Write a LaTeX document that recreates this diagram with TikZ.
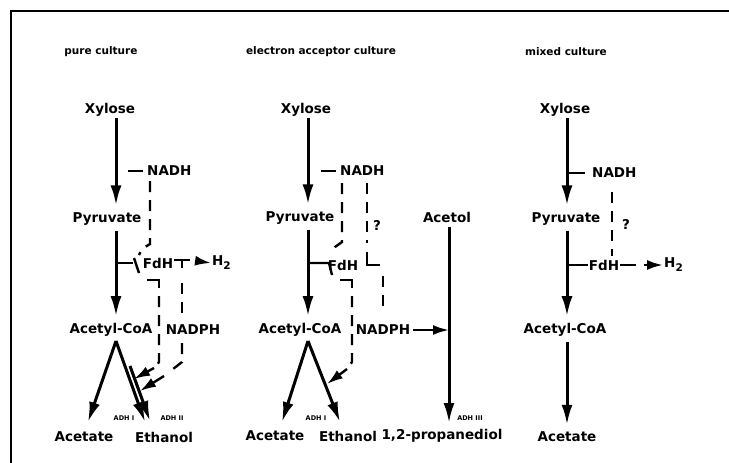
\documentclass[tikz,border=0pt]{standalone}
\usepackage{fontspec}
\setmainfont{DejaVu Sans}
\usetikzlibrary{arrows.meta,calc}
\tikzset{
  lab/.style={font=\fontsize{13.5}{13.5}\selectfont\bfseries, inner sep=1pt},
  ttl/.style={font=\fontsize{10.5}{10.5}\selectfont\bfseries, inner sep=0pt},
  adh/.style={font=\fontsize{6.5}{6.5}\selectfont\bfseries, inner sep=0pt},
  flow/.style={line width=3pt, -{Latex[length=20pt,width=11pt]}},
  sline/.style={line width=2.4pt},
  dline/.style={line width=2.4pt, dash pattern=on 11pt off 8pt},
  htip/.style={line width=2.4pt, -{Latex[length=16pt,width=10pt]}},
}
\newcommand{\Htwo}{H\raisebox{-4pt}{\fontsize{10.5}{10.5}\selectfont 2}}
\begin{document}
\begin{tikzpicture}[x=1pt,y=-1pt]
\useasboundingbox (0,0) rectangle (729,463);
\fill[white] (0,0) rectangle (729,463);
\coordinate (fa) at (729,11);
\coordinate (fb) at (11,11);
\coordinate (fc) at (11,463);
\draw[line width=2.4pt] (fa) -- (fb) -- (fc);

% ---------------- column 1: pure culture
\coordinate (c1) at (116,0);
\node[ttl] (t1) at (101,52) {pure culture};
\node[lab] (x1) at (110,110) {Xylose};
\node[lab] (p1) at (107,219) {Pyruvate};
\node[lab] (a1) at (111,330) {Acetyl-CoA};
\node[lab] (ac1) at (84,437) {Acetate};
\node[lab] (et1) at (164,437) {Ethanol};
\node[lab, anchor=west] (n1) at (146,171) {NADH};
\node[lab] (f1) at (158,263) {FdH};
\node[lab, anchor=west] (h1) at (211,263) {\Htwo};
\node[lab] (np1) at (193,330) {NADPH};
\node[adh] (ad11) at (124,418) {ADH I};
\node[adh] (ad12) at (172,418) {ADH II};

\draw[flow, shorten >=6pt] (c1 |- x1.south) -- (c1 |- p1.north);
\draw[flow, shorten <=4pt, shorten >=6pt] (c1 |- p1.south) -- (c1 |- a1.north);
\draw[sline] (n1.west) ++(-3,0) -- ++(-15,0);
\draw[dline] (150,181) -- (150,244) -- (142,249) -- (139,255);
\draw[sline] (c1 |- f1) -- ++(17,0);
\draw[sline] (134,258) -- (139,273);
\draw[sline] (174,260) -- (190,260);
\draw[sline] (182,260) -- (182,268);
\draw[dline] (182,283) -- (182,318);
\draw[dline] (182,343) -- (182,362) -- (168,373);
\draw[htip] (164,376) -- (140,391);
\draw[sline] (147,280) -- (159,280) -- (159,288);
\draw[dline] (159,296) -- (159,362) -- (156,366);
\draw[htip] (154,368) -- (134,379);
\draw[htip] (197,261) -- (h1.west);
\coordinate (s1) at (116,341);
\draw[flow] (s1) -- (88,422);
\draw[flow] (s1) -- (145,422);
\draw[flow] (130,366) -- (150,421);

% ---------------- column 2: electron acceptor culture
\coordinate (c2) at (308,0);
\node[ttl] (t2) at (321,52) {electron acceptor culture};
\node[lab] (x2) at (306,110) {Xylose};
\node[lab] (p2) at (300,218) {Pyruvate};
\node[lab] (a2) at (300,330) {Acetyl-CoA};
\node[lab] (ac2) at (275,436) {Acetate};
\node[lab] (et2) at (348,436) {Ethanol};
\node[lab] (pd2) at (442,436) {1,2-propanediol};
\node[lab, anchor=west] (n2) at (339,171) {NADH};
\node[lab] (f2) at (343,265) {FdH};
\node[lab] (np2) at (383,330) {NADPH};
\node[lab] (ao2) at (447,217) {Acetol};
\node[lab] (q2) at (377,225) {?};
\node[adh] (ad21) at (316,418) {ADH I};
\node[adh] (ad23) at (470,418) {ADH III};

\draw[flow, shorten >=6pt] (c2 |- x2.south) -- (c2 |- p2.north);
\draw[flow, shorten <=4pt, shorten >=6pt] (c2 |- p2.south) -- (c2 |- a2.north);
\draw[sline] (n2.west) ++(-3,0) -- ++(-15,0);
\draw[dline] (342,183) -- (342,242) -- (335,247) -- (331,253);
\draw[sline] (c2 |- f2) ++(0,-2) -- ++(21,0) -- ++(3,12);
\draw[dline] (367,183) -- (367,243);
\draw[sline] (367,252) -- (367,265) -- (380,265);
\draw[dline] (383,276) -- (383,314);
\draw[sline] (340,280) -- (352,280) -- (352,288);
\draw[dline] (352,296) -- (352,362) -- (349,366);
\draw[htip] (347,369) -- (327,384);
\coordinate (s2) at (308,341);
\draw[flow] (s2) -- (282,422);
\draw[flow] (s2) -- (340,422);
\coordinate (c3a) at (449,0);
\draw[flow, shorten <=4pt] (c3a |- ao2.south) -- (449,423);
\draw[sline] (np2.east) ++(2,0) -- ++(14,0);
\draw[htip] (427,330) -- (449,330);

% ---------------- column 3: mixed culture
\coordinate (c3) at (567,0);
\node[ttl] (t3) at (566,52) {mixed culture};
\node[lab] (x3) at (565,110) {Xylose};
\node[lab] (p3) at (566,219) {Pyruvate};
\node[lab] (a3) at (565,330) {Acetyl-CoA};
\node[lab] (ac3) at (567,437) {Acetate};
\node[lab, anchor=west] (n3) at (591,173) {NADH};
\node[lab] (f3) at (604,265) {FdH};
\node[lab] (q3) at (626,224) {?};
\node[lab, anchor=west] (h3) at (663,265) {\Htwo};

\draw[flow, shorten >=6pt] (c3 |- x3.south) -- (c3 |- p3.north);
\draw[flow, shorten <=4pt, shorten >=6pt] (c3 |- p3.south) -- (c3 |- a3.north);
\draw[flow, shorten <=4pt, shorten >=6pt] (c3 |- a3.south) -- (c3 |- ac3.north);
\draw[sline] (c3 |- n3) -- ++(18,0);
\draw[dline] (612,192) -- (612,256);
\draw[sline] (c3 |- f3) -- (f3.west);
\draw[sline] (f3.east) -- ++(16,0);
\draw[htip] (644,265) -- (h3.west);
\end{tikzpicture}
\end{document}
